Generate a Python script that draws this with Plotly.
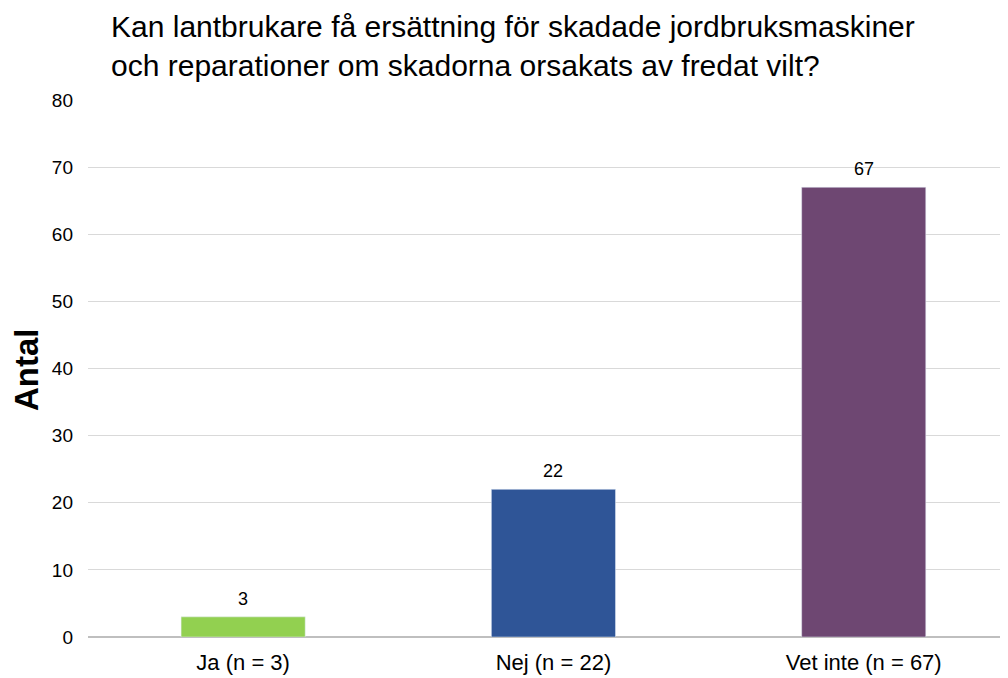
import plotly.graph_objects as go

categories = ["Ja (n = 3)", "Nej (n = 22)", "Vet inte (n = 67)"]
values = [3, 22, 67]
colors = ["#92D050", "#2F5597", "#6E4772"]
title_lines = ["Kan lantbrukare få ersättning för skadade jordbruksmaskiner",
               "och reparationer om skadorna orsakats av fredat vilt?"]
y_title = "Antal"

FONT = "Liberation Sans, Arial, sans-serif"

fig = go.Figure(go.Bar(
    x=categories, y=values, marker_color=colors, width=0.4,
    cliponaxis=False,
))

label_annotations = [
    dict(x=c, y=v, xref="x", yref="y", text=str(v), showarrow=False,
         xanchor="center", yanchor="bottom", yshift=6,
         font=dict(size=18, color="#000000", family=FONT))
    for c, v in zip(categories, values)
]

# page body has an 8px margin, so the figure is 8px smaller and margins offset
fig.update_layout(
    width=1000, height=670,
    margin=dict(l=80, r=0, t=92, b=41),
    paper_bgcolor="white", plot_bgcolor="white",
    font=dict(family=FONT, color="#000000"),
    showlegend=False,
    annotations=[
        dict(
            text="<br>".join(title_lines), xref="paper", yref="paper",
            x=0.0228, y=1.0, yshift=92, xanchor="left", yanchor="top", align="left",
            showarrow=False, font=dict(size=30, color="#000000", family=FONT),
        ),
        dict(
            text="<b>" + y_title + "</b>", xref="paper", yref="paper",
            x=-0.0674, y=0.499, xanchor="center", yanchor="middle", textangle=-90,
            showarrow=False, font=dict(size=33, color="#000000", family=FONT),
        ),
    ] + label_annotations,
)
fig.update_xaxes(
    range=[-0.5, 2.465], showgrid=False, showline=False, ticks="",
    tickfont=dict(size=22, color="#000000"), automargin=False,
    ticklabelstandoff=10,
)
fig.update_yaxes(
    range=[0, 80], dtick=10, showgrid=True, gridcolor="#D9D9D9", gridwidth=1,
    zeroline=True, zerolinecolor="#BFBFBF", zerolinewidth=1.5,
    tickfont=dict(size=19, color="#000000"), ticks="", ticklabelstandoff=14,
    automargin=False,
)

fig.write_html("out.html")
